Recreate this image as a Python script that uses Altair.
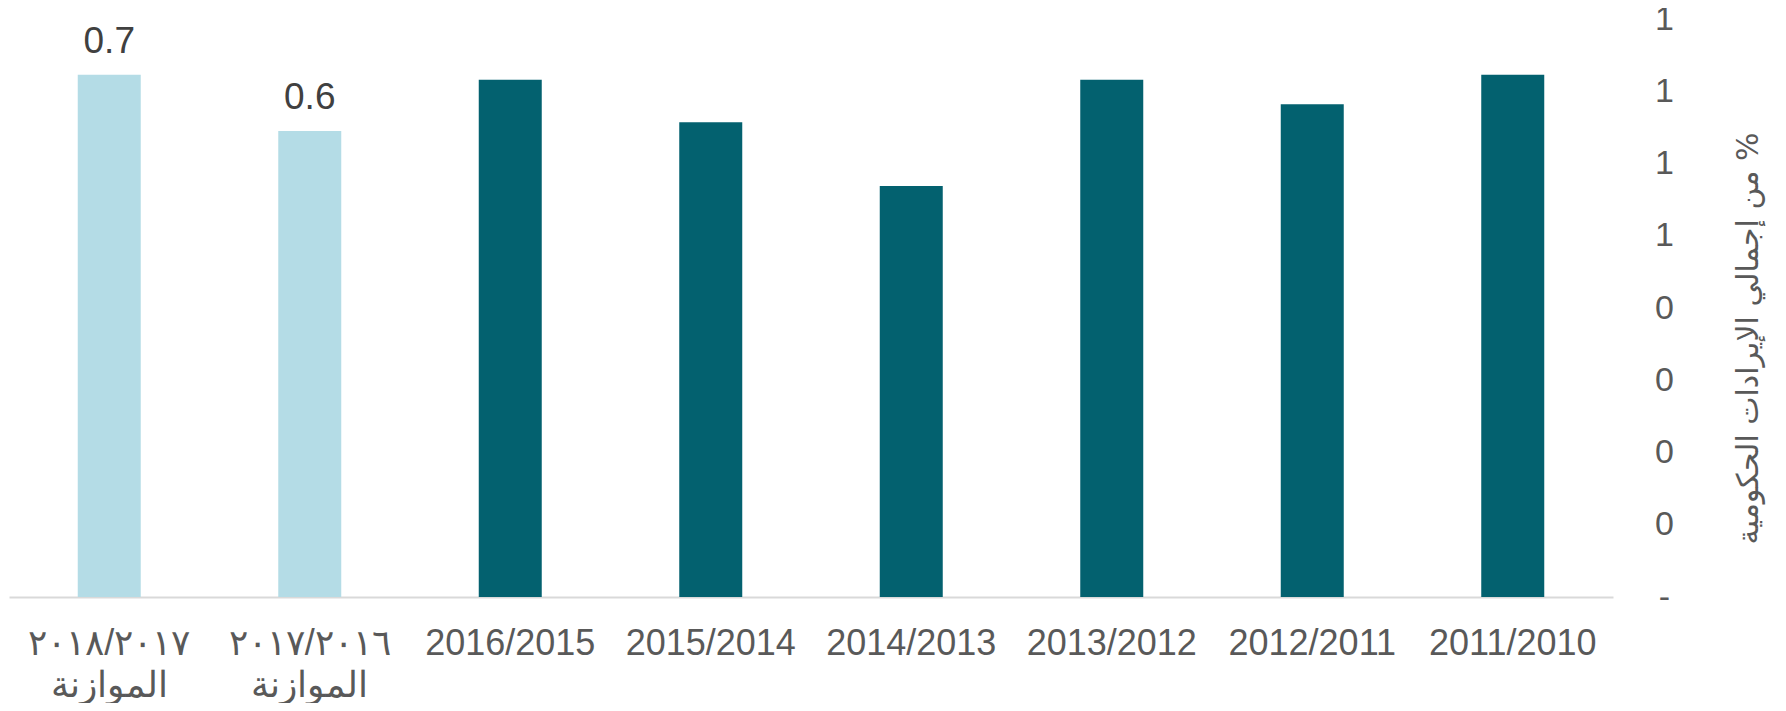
import altair as alt
import pandas as pd

categories = ["٢٠١٨/٢٠١٧|الموازنة", "٢٠١٧/٢٠١٦|الموازنة", "2016/2015", "2015/2014",
              "2014/2013", "2013/2012", "2012/2011", "2011/2010"]
values = [0.723, 0.645, 0.716, 0.657, 0.569, 0.716, 0.682, 0.723]
kinds = ["budget", "budget", "actual", "actual", "actual", "actual", "actual", "actual"]
bar_labels = ["0.7", "0.6", "", "", "", "", "", ""]
y_ticks = [0, 0.1, 0.2, 0.3, 0.4, 0.5, 0.6, 0.7, 0.8]
y_tick_labels = ["-", "0", "0", "0", "0", "1", "1", "1", "1"]
y_title = "\u200f% من إجمالي الإيرادات الحكومية"

df = pd.DataFrame({"cat": categories, "val": values, "kind": kinds, "lab": bar_labels})

label_arr = "[" + ",".join("'%s'" % s for s in y_tick_labels) + "]"

x = alt.X("cat:N", sort=None,
          scale=alt.Scale(paddingInner=0, paddingOuter=0),
          axis=alt.Axis(title=None, labelAngle=0, ticks=False, grid=False,
                        domainColor="#d9d9d9", domainWidth=2,
                        labelFont="Liberation Sans", labelFontSize=36,
                        labelColor="#595959", labelPadding=29,
                        labelLineHeight=42,
                        labelExpr="split(datum.label, '|')"))
y = alt.Y("val:Q", scale=alt.Scale(domain=[0, 0.8], nice=False, zero=True),
          axis=alt.Axis(orient="right", values=y_ticks, domain=False, ticks=False,
                        grid=False, labelFont="Liberation Sans", labelFontSize=34,
                        labelColor="#595959", labelAlign="center", labelPadding=51,
                        labelBaseline="middle",
                        labelExpr=label_arr + "[round(datum.value*10)]",
                        title=y_title, titleFont="DejaVu Sans", titleFontSize=30,
                        titleFontWeight="normal", titleColor="#595959",
                        titleAngle=270, titleAlign="center", titleBaseline="middle",
                        titleX=135, titleY=319))

bars = alt.Chart(df).mark_bar(size=63).encode(
    x=x, y=y,
    color=alt.Color("kind:N", scale=alt.Scale(domain=["budget", "actual"],
                                              range=["#b4dce6", "#03616f"]),
                    legend=None))

texts = alt.Chart(df).mark_text(baseline="alphabetic", dy=-22, fontSize=37,
                                font="Liberation Sans", color="#404040").encode(
    x=alt.X("cat:N", sort=None), y="val:Q", text="lab:N")

chart = (bars + texts).properties(
    width=1604, height=578,
    autosize="none",
    padding={"left": 1, "top": 11, "right": 165, "bottom": 106},
).configure_view(stroke=None)

chart.save("out.html", embed_options={"renderer": "svg", "actions": False})
